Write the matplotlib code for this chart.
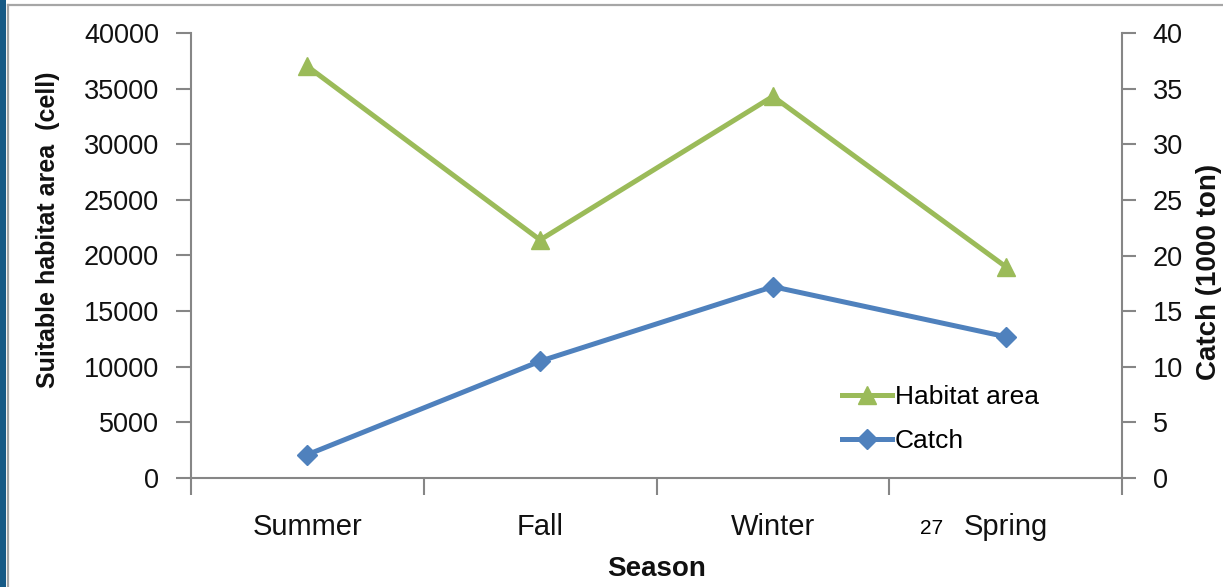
import matplotlib
matplotlib.use("Agg")
import matplotlib.pyplot as plt
from matplotlib.patches import Rectangle
from matplotlib.lines import Line2D
import numpy as np

plt.rcParams['font.family'] = ['Liberation Sans', 'DejaVu Sans']

# Seasonal data
seasons = ["Summer", "Fall", "Winter", "Spring"]
habitat_area = [37000, 21400, 34300, 19000]   # suitable habitat area (cells)
catch = [2.1, 10.5, 17.2, 12.7]               # catch (1000 ton)

green = "#9BBB59"
blue = "#4F81BD"
axis_grey = "#868686"

W, H = 1223, 587
fig = plt.figure(figsize=(W / 100, H / 100), dpi=100)

# slide frame: dark blue strip on the left and thin grey rules
fig.patches.append(Rectangle((0, 0), 6 / W, 1, transform=fig.transFigure,
                             facecolor="#165A86", edgecolor="none", zorder=0))
fig.lines.append(Line2D([7.5 / W, 7.5 / W], [0, 1 - 5 / H], transform=fig.transFigure,
                        color="#A6A6A6", lw=1.6))
fig.lines.append(Line2D([7.5 / W, 1], [1 - 5 / H, 1 - 5 / H], transform=fig.transFigure,
                        color="#A6A6A6", lw=1.6))

left, right, top, bottom = 191, 1122, 33, 478
ax = fig.add_axes([left / W, 1 - bottom / H, (right - left) / W, (bottom - top) / H])
ax2 = ax.twinx()

x = np.arange(len(seasons)) + 0.5

lh, = ax.plot(x, habitat_area, color=green, lw=3.6, marker="^", markersize=13,
              markeredgecolor=green, markerfacecolor=green, label="Habitat area",
              solid_joinstyle="miter")
lc, = ax2.plot(x, catch, color=blue, lw=3.6, marker="D", markersize=10,
               markeredgecolor=blue, markerfacecolor=blue, label="Catch",
               solid_joinstyle="miter")

ax.set_xlim(0, len(seasons))
ax.set_ylim(0, 40000)
ax2.set_ylim(0, 40)
ax.set_yticks(np.arange(0, 40001, 5000))
ax2.set_yticks(np.arange(0, 41, 5))

# category boundaries carry the x tick marks; names sit at the centres
ax.set_xticks(np.arange(0, len(seasons) + 1))
ax.set_xticklabels([])
ax.set_xticks(x, minor=True)
ax.set_xticklabels(seasons, minor=True, fontsize=21, color="#111111")
ax.tick_params(axis="x", which="major", direction="out", length=12, width=1.5,
               color=axis_grey)
ax.tick_params(axis="x", which="minor", length=0, pad=25)

ax.tick_params(axis="y", direction="out", length=11, width=1.5, color=axis_grey,
               labelsize=19.5, pad=12, labelcolor="#111111")
ax2.tick_params(axis="y", direction="out", length=10, width=1.5, color=axis_grey,
                labelsize=19.5, pad=12, labelcolor="#111111")

for a in (ax, ax2):
    a.spines["top"].set_visible(False)
    for s in ("left", "right", "bottom"):
        a.spines[s].set_color(axis_grey)
        a.spines[s].set_linewidth(1.5)
ax.spines["right"].set_visible(False)
ax2.spines["left"].set_visible(False)
ax2.spines["bottom"].set_visible(False)

# axis titles
fig.text(48 / W, 1 - 230 / H, "Suitable habitat area  (cell)", rotation=90,
         ha="center", va="center", fontsize=18, fontweight="bold", color="#111111")
fig.text(1209 / W, 1 - 272 / H, "Catch (1000 ton)", rotation=90,
         ha="center", va="center", fontsize=20, fontweight="bold", color="#111111")
fig.text(657 / W, 1 - 569 / H, "Season", ha="center", va="center",
         fontsize=20, fontweight="bold", color="#111111")

# slide number
fig.text(932 / W, 1 - 529 / H, "27", ha="center", va="center", fontsize=15,
         color="black")

ax.legend(handles=[lh, lc], loc="upper left", bbox_to_anchor=(829 / W, 1 - 372 / H),
          bbox_transform=fig.transFigure, frameon=False, fontsize=19,
          handlelength=1.9, handletextpad=0.1, labelspacing=0.75, borderpad=0)

fig.savefig("out.png", dpi=100)
